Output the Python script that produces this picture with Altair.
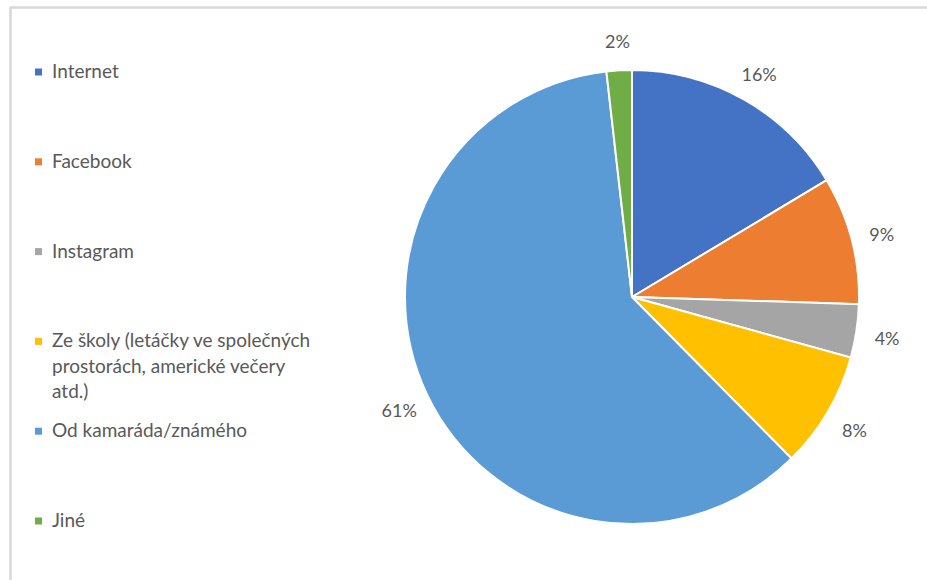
import altair as alt
import pandas as pd

categories = ["Internet", "Facebook", "Instagram",
              "Ze školy (letáčky ve společných prostorách, americké večery atd.)",
              "Od kamaráda/známého", "Jiné"]
legend_labels = ["Internet", "Facebook", "Instagram",
                 "Ze školy (letáčky ve společných\nprostorách, americké večery\natd.)",
                 "Od kamaráda/známého", "Jiné"]
values = [16.4, 9.1, 3.8, 8.3, 60.6, 1.8]
colors = ["#4472C4", "#ED7D31", "#A5A5A5", "#FFC000", "#5B9BD5", "#70AD47"]

df = pd.DataFrame({
    "cat": categories,
    "legend": legend_labels,
    "value": values,
    "idx": list(range(len(categories))),
})
df["label"] = [f"{round(v):d}%" for v in values]

color = alt.Color("cat:N", scale=alt.Scale(domain=categories, range=colors), legend=None)
theta = alt.Theta("value:Q", stack=True)
order = alt.Order("idx:Q")

CX, CY, R = 632, 297, 227
TEXT = "#595959"
FONT = "Lato"

base = alt.Chart(df)

pie = base.mark_arc(outerRadius=R, x=CX, y=CY, stroke="white", strokeWidth=2).encode(
    theta=theta, color=color, order=order)

pie_labels = base.mark_text(radius=258, x=CX, y=CY, dy=4, fontSize=18, font=FONT, color=TEXT).encode(
    theta=theta, order=order, text="label:N")

ly = alt.Y("cat:N", scale=alt.Scale(type="point", domain=categories, range=[72, 521], padding=0),
           axis=None)

leg_sq = base.mark_square(size=49, opacity=1).encode(
    x=alt.value(38.5), y=ly, color=color)

leg_txt = base.mark_text(align="left", baseline="middle", fontSize=19, font=FONT,
                         color=TEXT, lineBreak="\n", lineHeight=25.5).encode(
    x=alt.value(52), y=ly, text="legend:N")

frame_top = base.mark_rule(color="#D9D9D9", strokeWidth=1.5).encode(
    x=alt.value(10), x2=alt.value(927), y=alt.value(7.5))
frame_left = base.mark_rule(color="#D9D9D9", strokeWidth=1.5).encode(
    x=alt.value(10.5), y=alt.value(7), y2=alt.value(580))

chart = alt.layer(frame_top, frame_left, pie, pie_labels, leg_sq, leg_txt).properties(
    width=927, height=580, padding=0, autosize=alt.AutoSizeParams(type="none"),
    background="white"
).configure_view(stroke=None)

chart.save("out.html", embed_options={"renderer": "svg", "actions": False})
